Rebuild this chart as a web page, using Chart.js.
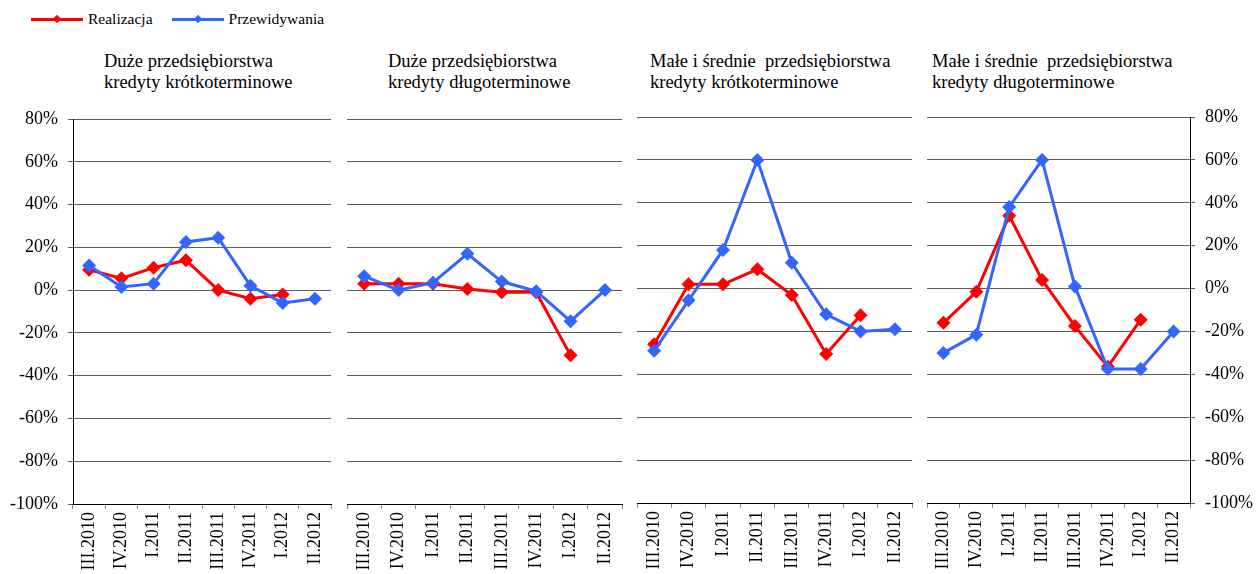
<!DOCTYPE html>
<html>
<head>
<meta charset="utf-8">
<script src="https://cdn.jsdelivr.net/npm/chart.js@4"></script>
<style>
  body { margin: 0; background: #fff; width: 1260px; height: 574px; position: relative; overflow: hidden;
         font-family: 'Liberation Serif', 'Times New Roman', serif; color: #000; }
  canvas { position: absolute; top: 0; }
  .title { position: absolute; top: 51px; font-size: 18.5px; line-height: 21px; white-space: pre; }
  .legend { position: absolute; top: 9px; left: 31px; font-size: 15.5px; line-height: 20px; white-space: nowrap; }
  .legend .item { display: inline-block; position: relative; padding-left: 57px; margin-right: 19px; }
  .legend .line { position: absolute; left: 0; top: 9px; width: 52px; height: 3px; }
  .legend .dot { position: absolute; left: 23px; top: 7px; width: 6px; height: 6px; transform: rotate(45deg); }
</style>
</head>
<body>
<div class="legend">
  <span class="item"><span class="line" style="background:#ff0000"></span><span class="dot" style="background:#ff0000"></span>Realizacja</span><span class="item"><span class="line" style="background:#3366ff"></span><span class="dot" style="background:#3366ff"></span>Przewidywania</span>
</div>
<div class="title" style="left:104px">Duże przedsiębiorstwa
kredyty krótkoterminowe</div>
<div class="title" style="left:388px">Duże przedsiębiorstwa
kredyty długoterminowe</div>
<div class="title" style="left:650px">Małe i średnie  przedsiębiorstwa
kredyty krótkoterminowe</div>
<div class="title" style="left:932px">Małe i średnie  przedsiębiorstwa
kredyty długoterminowe</div>

<canvas id="c1" width="340" height="574" style="left:0px"></canvas>
<canvas id="c2" width="290" height="574" style="left:340px"></canvas>
<canvas id="c3" width="290" height="574" style="left:630px"></canvas>
<canvas id="c4" width="340" height="574" style="left:920px"></canvas>

<script>
const categories = ['III.2010', 'IV.2010', 'I.2011', 'II.2011', 'III.2011', 'IV.2011', 'I.2012', 'II.2012'];

// Duże przedsiębiorstwa - kredyty krótkoterminowe
const dkReal = [9.5, 5.5, 10.5, 14, 0, -4, -2, null];
const dkPred = [11.5, 1.5, 3, 22.5, 24.5, 2, -6, -4];
// Duże przedsiębiorstwa - kredyty długoterminowe
const ddReal = [3, 3, 3, 0.5, -1, -1, -30.5, null];
const ddPred = [6.5, 0, 3.5, 17, 4, -0.5, -14.5, 0];
// MSP - kredyty krótkoterminowe
const mkReal = [-26, 2, 2, 9, -3, -30.5, -12.5, null];
const mkPred = [-29, -5.5, 18, 60, 12, -12, -20, -19];
// MSP - kredyty długoterminowe
const mdReal = [-16, -1.5, 34, 4, -17.5, -36.5, -14.5, null];
const mdPred = [-30, -21.5, 38, 60, 1, -37.5, -37.5, -20];

const yMin = -100, yMax = 80, yStep = 20;

const RED = '#ff0000';
const BLUE = '#3366ff';

Chart.defaults.font.family = "'Liberation Serif', 'Times New Roman', serif";
Chart.defaults.font.size = 18;
Chart.defaults.color = '#000';

function series(label, data, color, order) {
  return {
    label: label,
    data: data,
    borderColor: color,
    backgroundColor: color,
    borderWidth: 3,
    pointStyle: 'rectRot',
    pointRadius: 7,
    pointBorderWidth: 0,
    tension: 0,
    order: order
  };
}

// side: 'left' | 'right' | null  (which panel carries the % axis)
function makeChart(id, real, pred, side, pad, xHeight, yWidth) {
  const ctx = document.getElementById(id);
  return new Chart(ctx, {
    type: 'line',
    data: {
      labels: categories,
      datasets: [series('Realizacja', real, RED, 2), series('Przewidywania', pred, BLUE, 1)]
    },
    options: {
      responsive: false,
      animation: false,
      devicePixelRatio: 1,
      layout: { padding: pad },
      plugins: { legend: { display: false }, tooltip: { enabled: false } },
      scales: {
        x: {
          offset: true,
          grid: { offset: true, drawOnChartArea: false, tickLength: 5, color: '#8c8c8c' },
          border: { display: true, color: '#000', width: 1 },
          ticks: { autoSkip: false, minRotation: 90, maxRotation: 90, padding: 3 },
          afterFit: s => { s.height = xHeight; }
        },
        y: {
          position: side === 'right' ? 'right' : 'left',
          min: yMin,
          max: yMax,
          grid: { color: '#5f5f5f', drawTicks: side !== null, tickLength: 5 },
          border: { display: side !== null, color: '#000', width: 1 },
          ticks: {
            display: side !== null,
            stepSize: yStep,
            padding: 10,
            callback: v => v + '%'
          },
          afterFit: s => { s.width = yWidth; }
        }
      }
    }
  });
}

makeChart('c1', dkReal, dkPred, 'left',  { top: 119, left: 0, right: 3, bottom: 0 }, 70, 73);
makeChart('c2', ddReal, ddPred, null,    { top: 119, left: 6, right: 7, bottom: 0 }, 70, 0);
makeChart('c3', mkReal, mkPred, null,    { top: 117, left: 7, right: 4, bottom: 0 }, 71, 0);
makeChart('c4', mdReal, mdPred, 'right', { top: 117, left: 4, right: 0, bottom: 0 }, 71, 70);
</script>
</body>
</html>
